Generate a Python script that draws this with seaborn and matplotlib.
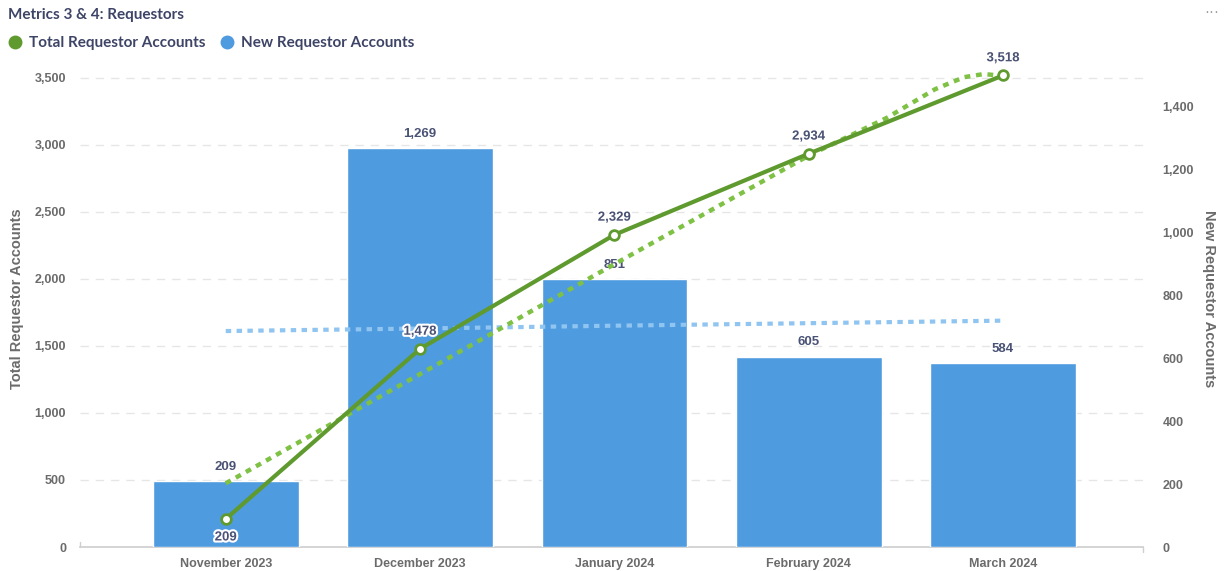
import numpy as np
import matplotlib
matplotlib.use("Agg")
import matplotlib.pyplot as plt
import matplotlib.patheffects as pe
from matplotlib.lines import Line2D
import seaborn as sns

# ---- data ----
months = ["November 2023", "December 2023", "January 2024", "February 2024", "March 2024"]
new_accounts = [209, 1269, 851, 605, 584]
total_accounts = [209, 1478, 2329, 2934, 3518]

# dotted trend lines (x in category units)
total_trend_x = [0, 1, 2, 3, 3.4, 3.65, 3.8, 3.9, 4.0]
total_trend = [475, 1290, 2110, 2920, 3200, 3415, 3505, 3528, 3515]
new_trend_x = [0, 1, 2, 3, 4]
new_trend = [687, 695, 704, 712, 720]

GREEN = "#5f9a2f"
GREEN_TREND = "#7ec144"
BLUE = "#4f9be0"
BLUE_TREND = "#8fc5f0"
LABEL = "#4a5275"
TICK = "#6b6b6b"

sns.set_theme(style="white")
plt.rcParams["font.family"] = ["Liberation Sans", "DejaVu Sans"]

fig = plt.figure(figsize=(12.24, 5.71), dpi=100)
ax = fig.add_axes([80 / 1224, 1 - 547 / 571, (1143 - 80) / 1224, (547 - 51) / 571])
axb = ax.twinx()   # bars, right scale
axl = ax.twinx()   # lines, left scale

LEFT_MAX = 3700
RIGHT_MAX = LEFT_MAX / 2.345

# grid + left axis
ax.set_ylim(0, LEFT_MAX)
ax.set_yticks(range(0, 3501, 500))
ax.set_yticklabels([f"{v:,}" for v in range(0, 3501, 500)])
for v in range(500, 3501, 500):
    ax.axhline(v, color="#e6e6e6", lw=1, ls=(0, (6, 5)), zorder=0)
ax.set_ylabel("Total Requestor Accounts", fontsize=10.5, fontweight="bold", color=TICK, labelpad=8)

# bars
xpos = np.arange(len(months))
sns.barplot(x=xpos, y=new_accounts, ax=axb, color=BLUE, width=0.75, saturation=1, native_scale=True)
for x, v in zip(xpos, new_accounts):
    axb.annotate(f"{v:,}", (x, v), xytext=(0, 6), textcoords="offset points",
                 ha="center", va="bottom", fontsize=9.5, fontweight="bold", color=LABEL)
sns.lineplot(x=new_trend_x, y=new_trend, ax=axb, color=BLUE_TREND, lw=3, ls=(0, (1.3, 1.3)))
axb.set_ylim(0, RIGHT_MAX)
axb.set_yticks(range(0, 1401, 200))
axb.set_yticklabels([f"{v:,}" for v in range(0, 1401, 200)])
axb.set_ylabel("New Requestor Accounts", fontsize=10.5, fontweight="bold", color=TICK,
               rotation=-90, labelpad=16)

# lines
sns.lineplot(x=total_trend_x, y=total_trend, ax=axl, color=GREEN_TREND, lw=3.2, ls=(0, (1.3, 1.3)))
sns.lineplot(x=xpos, y=total_accounts, ax=axl, color=GREEN, lw=3, marker="o", ms=7,
             markerfacecolor="white", markeredgecolor=GREEN, markeredgewidth=2)
halo = [pe.withStroke(linewidth=3, foreground="white")]
for i, (x, v) in enumerate(zip(xpos, total_accounts)):
    dy = -9 if i == 0 else 8
    axl.annotate(f"{v:,}", (x, v), xytext=(0, dy), textcoords="offset points",
                 ha="center", va="top" if i == 0 else "bottom", fontsize=9.5,
                 fontweight="bold", color=LABEL, path_effects=halo)
axl.set_ylim(0, LEFT_MAX)
axl.set_yticks([])
axl.set_ylabel("")

for a in (ax, axb, axl):
    a.set_xlim(-0.75, 4.72)
    for s in a.spines.values():
        s.set_visible(False)
    a.tick_params(length=0)
ax.spines["bottom"].set_visible(True)
ax.spines["bottom"].set_color("#cfcfcf")
# little end ticks on the baseline
ax.plot([-0.75, -0.75], [0, 40], color="#cfcfcf", lw=1, clip_on=False)
ax.plot([4.72, 4.72], [0, -40], color="#cfcfcf", lw=1, clip_on=False)
ax.set_xticks(xpos)
ax.set_xticklabels(months)
axb.set_xticks(xpos)
axb.set_xticklabels(months)
axb.set_xlabel("")
ax.tick_params(axis="y", labelsize=9, labelcolor=TICK, pad=10)
axb.tick_params(axis="y", labelsize=9, labelcolor=TICK, pad=14)
for a in (ax, axb):
    a.tick_params(axis="x", labelsize=9, labelcolor=TICK, pad=8)
    for t in a.get_xticklabels() + a.get_yticklabels():
        t.set_fontweight("bold")
axl.tick_params(axis="x", labelbottom=False)

# title, legend, menu dots
fig.text(8 / 1224, 1 - 15 / 571, "Metrics 3 & 4: Requestors", fontsize=11, fontweight="bold",
         color="#3d4466", family=["Lato", "DejaVu Sans"], va="center")
handles = [Line2D([], [], marker="o", ls="", ms=9, color=GREEN),
           Line2D([], [], marker="o", ls="", ms=9, color=BLUE)]
leg = fig.legend(handles, ["Total Requestor Accounts", "New Requestor Accounts"], ncol=2,
                 loc="center left", bbox_to_anchor=(3 / 1224, 1 - 43 / 571), frameon=False,
                 handlelength=0.8, handletextpad=0.5, columnspacing=1.0, borderaxespad=0,
                 prop={"family": ["Lato", "DejaVu Sans"], "weight": "bold", "size": 11})
for t in leg.get_texts():
    t.set_color("#3d4466")
fig.text(1212 / 1224, 1 - 12 / 571, "···", fontsize=11, color="#9a9a9a", ha="center", va="center")

fig.savefig("out.png", dpi=100)
